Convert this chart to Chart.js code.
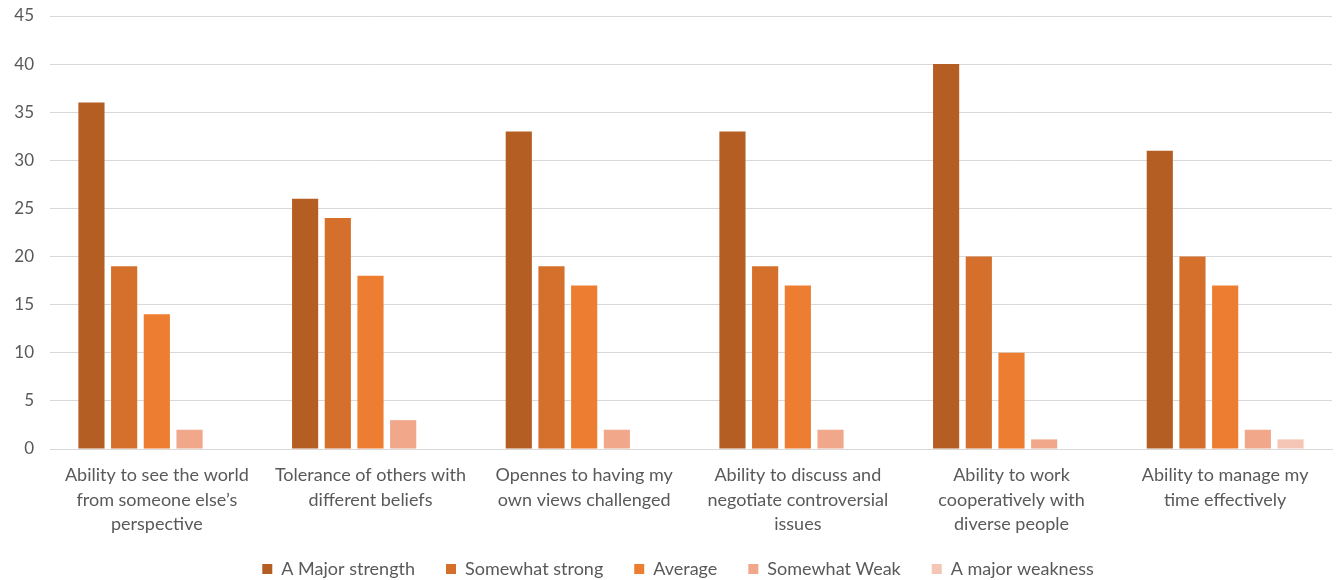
<!DOCTYPE html>
<html><head><meta charset="utf-8">
<script src="https://cdn.jsdelivr.net/npm/chart.js@4/dist/chart.umd.min.js"></script>
<style>html,body{margin:0;padding:0;background:#fff}#wrap{width:1338px;height:580px}</style>
</head><body><div id="wrap"><canvas id="c"></canvas></div>
<script>
const categories = [
  ["Ability to see the world", "from someone else\u2019s", "perspective"],
  ["Tolerance of others with", "different beliefs"],
  ["Opennes to having my", "own views challenged"],
  ["Ability to discuss and", "negotiate controversial", "issues"],
  ["Ability to work", "cooperatively with", "diverse people"],
  ["Ability to manage my", "time effectively"]
];
const seriesNames = ["A Major strength", "Somewhat strong", "Average", "Somewhat Weak", "A major weakness"];
const majorStrength = [36, 26, 33, 33, 40, 31];
const somewhatStrong = [19, 24, 19, 19, 20, 20];
const average = [14, 18, 17, 17, 10, 17];
const somewhatWeak = [2, 3, 2, 2, 1, 2];
const majorWeakness = [0, 0, 0, 0, 0, 1];
const yTicks = [0, 5, 10, 15, 20, 25, 30, 35, 40, 45];
const colors = ["#B45E24", "#D56F2C", "#ED7D31", "#F1A78A", "#F5C6B6"];
const allData = [majorStrength, somewhatStrong, average, somewhatWeak, majorWeakness];

const legendPlace = {
  id: 'legendPlace',
  beforeInit(chart) {
    const lg = chart.legend;
    const orig = lg.fit;
    lg.fit = function () { orig.call(this); this.height = 43; };
  },
  afterLayout(chart) {
    const lg = chart.legend;
    lg.top -= 8;
    lg.left += 12; lg.right += 12;
  }
};

Chart.defaults.font.family = "Lato, 'Open Sans', sans-serif";
Chart.defaults.color = "#595959";
new Chart(document.getElementById('c'), {
  type: 'bar',
  data: {
    labels: categories,
    datasets: seriesNames.map((n, i) => ({
      label: n, data: allData[i], backgroundColor: colors[i],
      borderWidth: 0,
      categoryPercentage: 0.765, barPercentage: 0.8
    }))
  },
  plugins: [legendPlace],
  options: {
    responsive: true, maintainAspectRatio: false, animation: false,
    layout: { padding: { left: 0, top: 0, bottom: 0, right: 6 } },
    plugins: {
      tooltip: { enabled: false },
      legend: {
        position: 'bottom',
        labels: { boxWidth: 10, boxHeight: 10, padding: 31, font: { size: 18 }, color: '#595959' }
      }
    },
    scales: {
      x: {
        afterFit: s => { s.height = 88; },
        grid: { display: false },
        border: { display: true, color: '#d9d9d9', width: 1 },
        ticks: { font: { size: 18, lineHeight: 1.36 }, color: '#595959', maxRotation: 0, autoSkip: false, padding: 6 }
      },
      y: {
        min: 0, max: 45,
        afterFit: s => { s.paddingTop = 16; s.width = 50; },
        afterBuildTicks: ax => { ax.ticks = yTicks.map(v => ({ value: v })); },
        grid: { color: '#d9d9d9', lineWidth: 1, drawTicks: false },
        border: { display: false },
        ticks: { font: { size: 17 }, color: '#595959', padding: 16 }
      }
    }
  }
});
</script></body></html>
